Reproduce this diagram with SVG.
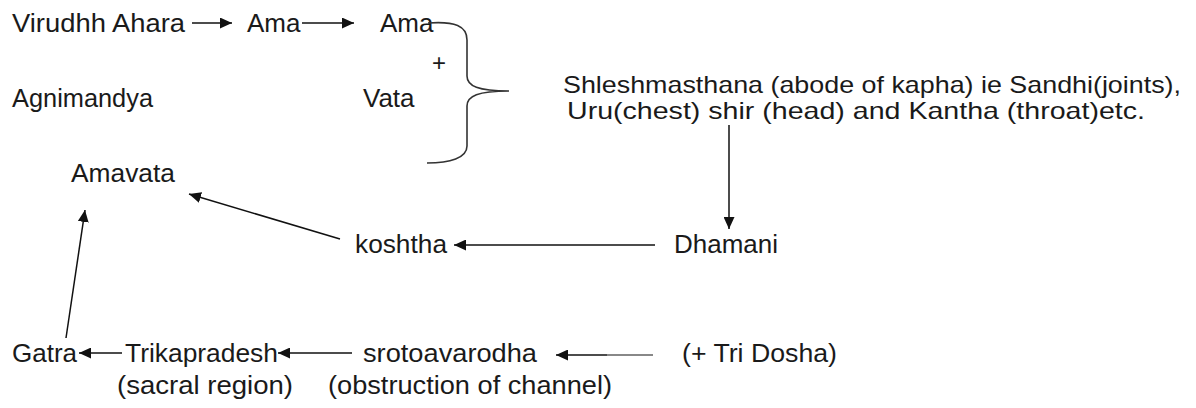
<svg xmlns="http://www.w3.org/2000/svg" width="1196" height="408" viewBox="0 0 1196 408">
<defs>
<style>
text{font-family:"Liberation Sans",Arial,sans-serif;font-size:26px;fill:#1a1a1a}
.s{font-size:24px}
.c{stroke:#111;stroke-width:1.5;fill:none}
.b{stroke:#333;stroke-width:1.6;fill:none}
</style>
<marker id="ah" markerUnits="userSpaceOnUse" markerWidth="13" markerHeight="11" refX="12" refY="5.5" orient="auto">
<path d="M0,0 L12,5.5 L0,11 Z" fill="#111"/>
</marker>
</defs>
<rect width="1196" height="408" fill="#fff"/>
<g id="n-virudhh"><text x="12" y="32" textLength="173" lengthAdjust="spacingAndGlyphs">Virudhh Ahara</text></g>
<g id="n-ama1"><text x="247" y="32">Ama</text></g>
<g id="n-ama2"><text x="380" y="32">Ama</text></g>
<g id="n-plus"><text x="439" y="71" text-anchor="middle" style="font-size:24px">+</text></g>
<g id="n-agni"><text x="12" y="107" textLength="141" lengthAdjust="spacingAndGlyphs">Agnimandya</text></g>
<g id="n-vata"><text x="363" y="107">Vata</text></g>
<g id="n-brace"><path class="b" d="M428,23 C455,21 467,26 467,40 L467,76 C467,86 478,91 509,91 C478,91 467,96 467,106 L467,146 C467,158 450,163 427,163"/></g>
<g id="n-shlesh">
<text class="s" x="563" y="93" textLength="618" lengthAdjust="spacingAndGlyphs">Shleshmasthana (abode of kapha) ie Sandhi(joints),</text>
<text class="s" x="567" y="119" textLength="578" lengthAdjust="spacingAndGlyphs">Uru(chest) shir (head) and Kantha (throat)etc.</text>
</g>
<g id="n-amavata"><text x="71" y="182" textLength="104" lengthAdjust="spacingAndGlyphs">Amavata</text></g>
<g id="n-koshtha"><text x="355" y="253" textLength="92" lengthAdjust="spacingAndGlyphs">koshtha</text></g>
<g id="n-dhamani"><text x="674" y="253" textLength="104" lengthAdjust="spacingAndGlyphs">Dhamani</text></g>
<g id="n-gatra"><text x="12" y="362" textLength="65" lengthAdjust="spacingAndGlyphs">Gatra</text></g>
<g id="n-trika">
<text x="125" y="362" textLength="153" lengthAdjust="spacingAndGlyphs">Trikapradesh</text>
<text x="117" y="394" textLength="176" lengthAdjust="spacingAndGlyphs">(sacral region)</text>
</g>
<g id="n-sroto">
<text x="363" y="362" textLength="174" lengthAdjust="spacingAndGlyphs">srotoavarodha</text>
<text x="328" y="394" textLength="284" lengthAdjust="spacingAndGlyphs">(obstruction of channel)</text>
</g>
<g id="n-tridosha"><text x="682" y="362" textLength="155" lengthAdjust="spacingAndGlyphs">(+ Tri Dosha)</text></g>
<g id="connectors">
<line class="c" x1="192" y1="23" x2="232" y2="23" marker-end="url(#ah)"/>
<line class="c" x1="302" y1="23" x2="354" y2="23" marker-end="url(#ah)"/>
<line class="c" x1="729" y1="125" x2="729" y2="229" marker-end="url(#ah)"/>
<line class="c" x1="655" y1="245" x2="454" y2="245" marker-end="url(#ah)"/>
<line class="c" x1="340" y1="239" x2="189" y2="194" marker-end="url(#ah)"/>
<line class="c" x1="66" y1="338" x2="85" y2="210" marker-end="url(#ah)"/>
<line class="c" x1="122" y1="353" x2="79" y2="353" marker-end="url(#ah)"/>
<line class="c" x1="352" y1="353" x2="278" y2="353" marker-end="url(#ah)"/>
<line class="c" x1="607" y1="355" x2="556" y2="355" marker-end="url(#ah)"/>
<line x1="607" y1="355" x2="653" y2="355" stroke="#888" stroke-width="2"/>
</g>
</svg>
